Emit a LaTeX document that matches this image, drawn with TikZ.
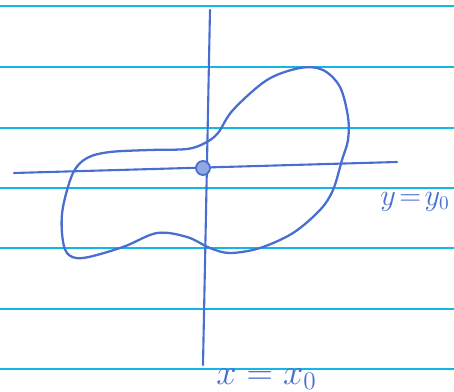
\documentclass[tikz,border=0pt]{standalone}
\usepackage{xcolor}
\usepackage{tikz}
\usetikzlibrary{positioning,calc}
\definecolor{penblue}  {RGB}{72,110,208}
\definecolor{ruleblue} {RGB}{20,182,232}
\tikzset{
  ruleline/.style={draw=ruleblue, line width=1.1pt},
  axisline/.style={draw=penblue, line width=1.2pt, line cap=round},
  loopline/.style={draw=penblue, line width=1.3pt, line join=round},
  axlabel/.style ={text=penblue, inner sep=0pt},
}

\begin{document}
\begin{tikzpicture}[x=0.02cm, y=-0.02cm]
  \useasboundingbox (0,0) rectangle (454,392);

  %% ruled paper
  \foreach \yy in {6,67,128,188,248,309,369}
    \draw[ruleline] (0,\yy) -- (454,\yy);

  %% axes
  \coordinate (ytop) at (210,10);
  \coordinate (ybot) at (203,365);
  \coordinate (xleft) at (14,173);
  \coordinate (xright) at (397,162);
  \draw[axisline] (ytop) -- (ybot);
  \draw[axisline] (xleft) -- (xright);
  \node[circle, draw=penblue, fill=penblue!60, line width=1pt,
        minimum size=8pt, inner sep=0pt] (pt) at (203,168) {};

  %% closed curve
  \draw[loopline] plot[smooth cycle, tension=0.55] coordinates {
    (218,133) (233,110) (267,80) (300,68) (323,70) (340,87) (348,117)
    (348,140) (342,160) (333,190) (320,210) (293,233) (260,248)
    (230,253) (210,248) (187,237) (157,233) (123,247) (83,258)
    (67,253) (62,233) (63,207) (73,173) (87,158) (110,152) (150,150)
    (187,149) (205,143)};

  %% labels
  \node[axlabel, anchor=base west, font=\fontsize{16}{16}\selectfont]
        (ylab) at (380,205) {$y\!=\!y_0$};
  \node[axlabel, anchor=base west, font=\fontsize{21}{21}\selectfont]
        (xlab) at (216,384) {$x=x_0$};
\end{tikzpicture}
\end{document}
